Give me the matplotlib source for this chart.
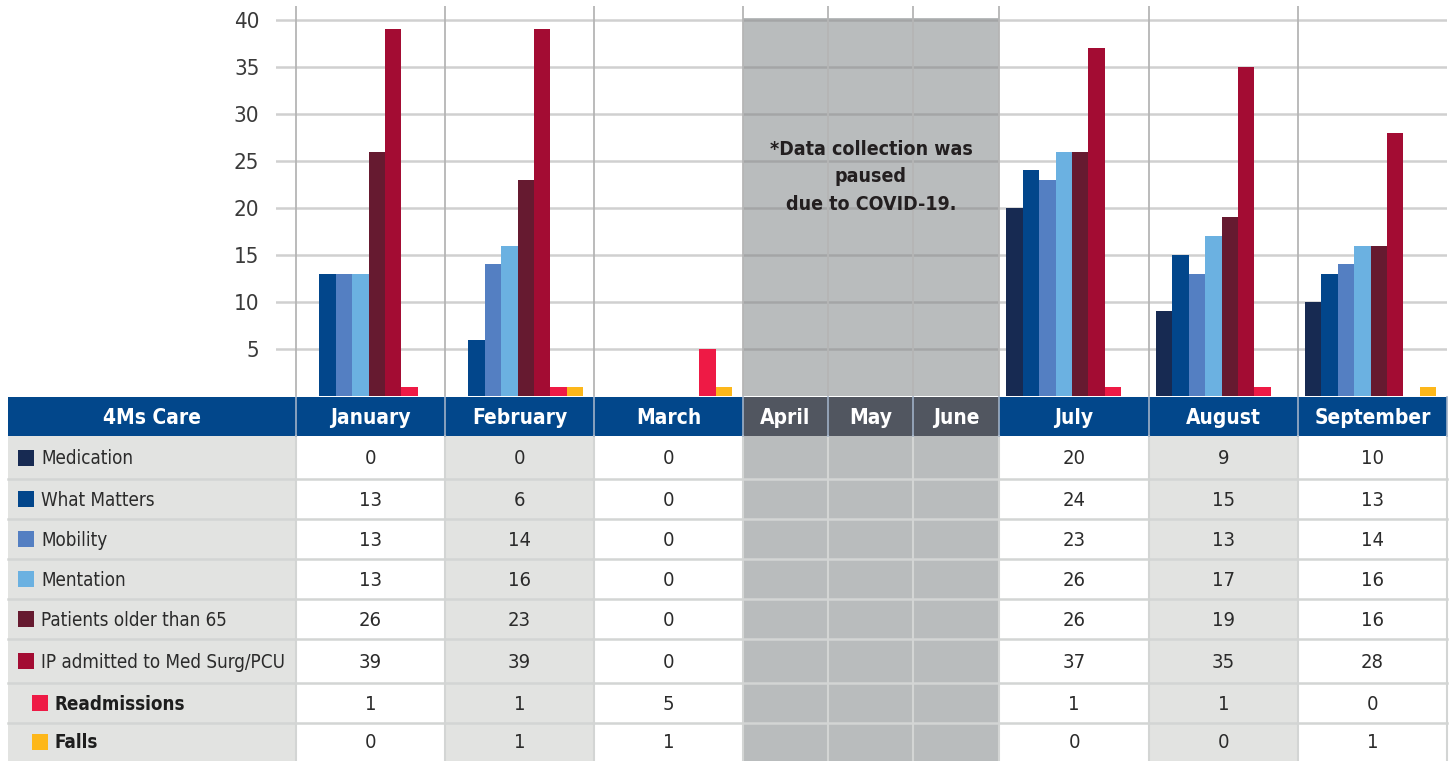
import numpy as np
import matplotlib.pyplot as plt
from matplotlib.patches import Rectangle

plt.rcParams['font.family'] = ['Liberation Sans Narrow', 'DejaVu Sans']
plt.rcParams['font.stretch'] = 'condensed'

months = ["January", "February", "March", "April", "May", "June", "July", "August", "September"]
paused = ["April", "May", "June"]
series = ["Medication", "What Matters", "Mobility", "Mentation",
          "Patients older than 65", "IP admitted to Med Surg/PCU", "Readmissions", "Falls"]
bold_series = ["Readmissions", "Falls"]

medication = [0, 0, 0, None, None, None, 20, 9, 10]
what_matters = [13, 6, 0, None, None, None, 24, 15, 13]
mobility = [13, 14, 0, None, None, None, 23, 13, 14]
mentation = [13, 16, 0, None, None, None, 26, 17, 16]
older_65 = [26, 23, 0, None, None, None, 26, 19, 16]
ip_admitted = [39, 39, 0, None, None, None, 37, 35, 28]
readmissions = [1, 1, 5, None, None, None, 1, 1, 0]
falls = [0, 1, 1, None, None, None, 0, 0, 1]
values = [medication, what_matters, mobility, mentation, older_65, ip_admitted, readmissions, falls]

colors = ["#172A52", "#02468B", "#547FC2", "#6BB1E1", "#661A30", "#A30C33", "#EE1A45", "#FDB71A"]

# layout in pixels
W, H = 1452, 761
col_edges = [296, 445, 594, 743, 828, 913, 999, 1149, 1298, 1447]
row_edges = [397, 436, 479, 519, 559, 599, 639, 683, 723, 761]
table_left = 8
zero_y, top_y = 396, 6
px_per_unit = 9.4
bar_w = 16.4

fig = plt.figure(figsize=(W / 100, H / 100), dpi=100)

# ---- table (figure pixel coords)
tab = fig.add_axes([0, 0, 1, 1], zorder=0)
tab.set_xlim(0, W)
tab.set_ylim(H, 0)
tab.axis('off')

blue = "#02478B"
dark = "#515660"
covid_gray = "#B9BCBD"
light = "#E2E3E1"
line_col = "#D3D5D4"
text_col = "#2B2B2B"

# header
tab.add_patch(Rectangle((table_left, row_edges[0]), col_edges[0] - table_left,
                        row_edges[1] - row_edges[0], color=blue, lw=0))
tab.text((table_left + col_edges[0]) / 2, (row_edges[0] + row_edges[1]) / 2 + 1, "4Ms Care",
         color="white", fontsize=15, fontweight='bold', ha='center', va='center')
for i, m in enumerate(months):
    x0, x1 = col_edges[i], col_edges[i + 1]
    hc = dark if m in paused else blue
    tab.add_patch(Rectangle((x0, row_edges[0]), x1 - x0, row_edges[1] - row_edges[0], color=hc, lw=0))
    tab.text((x0 + x1) / 2, (row_edges[0] + row_edges[1]) / 2 + 1, m,
             color="white", fontsize=15, fontweight='bold', ha='center', va='center')
    if m in paused:
        bg = covid_gray
    elif i % 2 == 1:
        bg = light
    else:
        bg = "white"
    tab.add_patch(Rectangle((x0, row_edges[1]), x1 - x0, row_edges[-1] - row_edges[1], color=bg, lw=0))
tab.add_patch(Rectangle((table_left, row_edges[1]), col_edges[0] - table_left,
                        row_edges[-1] - row_edges[1], color=light, lw=0))

# grid lines of table
for y in row_edges[2:-1]:
    tab.plot([table_left, col_edges[-1]], [y, y], color=line_col, lw=1.8)
for x in col_edges:
    tab.plot([x, x], [row_edges[1], row_edges[-1]], color=line_col, lw=1.5)
    tab.plot([x, x], [row_edges[0], row_edges[1]], color="#9FB0C6", lw=1.2)

# row labels and values
for r, name in enumerate(series):
    y0, y1 = row_edges[r + 1], row_edges[r + 2]
    yc = (y0 + y1) / 2
    bold = name in bold_series
    sx = 32 if bold else 18
    tab.add_patch(Rectangle((sx, yc - 8), 16, 16, color=colors[r], lw=0))
    tab.text(sx + 23, yc + 1, name, color=text_col if not bold else "#1E1E1E",
             fontsize=13.5, fontweight='bold' if bold else 'normal', ha='left', va='center')
    for i, v in enumerate(values[r]):
        if v is None:
            continue
        tab.text((col_edges[i] + col_edges[i + 1]) / 2, yc + 1, str(v), color=text_col,
                 fontsize=14.5, ha='center', va='center')

# ---- bar chart (x in pixels, y in data units)
ax = fig.add_axes([276 / W, (H - zero_y) / H, (col_edges[-1] - 276) / W, (zero_y - top_y) / H],
                  zorder=1)
ax.set_facecolor('none')
ax.set_xlim(276, col_edges[-1])
ax.set_ylim(0, (zero_y - top_y) / px_per_unit)
for s in ax.spines.values():
    s.set_visible(False)

yticks = [5, 10, 15, 20, 25, 30, 35, 40]
ax.set_yticks(yticks)
ax.set_yticklabels([str(t) for t in yticks], fontsize=16, color="#3A3A3A")
ax.tick_params(axis='y', length=0, pad=12)
ax.set_xticks([])

# paused block
p0 = col_edges[months.index("April")]
p1 = col_edges[months.index("June") + 1]
ax.add_patch(Rectangle((p0, 0), p1 - p0, (zero_y - 18) / px_per_unit, color=covid_gray, lw=0, zorder=1))
for t in yticks:
    ax.axhline(t, color="#808080", alpha=0.37, lw=1.8, zorder=2)
for x in col_edges[:-1]:
    ax.axvline(x, color="#B5B5B5", lw=1.3, zorder=2)

centers = [(col_edges[i] + col_edges[i + 1]) / 2 - 2 for i in range(len(months))]
for k, (vals, c) in enumerate(zip(values, colors)):
    xs, hs = [], []
    for i, v in enumerate(vals):
        if v is None:
            continue
        xs.append(centers[i] + (k - 3.5) * bar_w)
        hs.append(v)
    ax.bar(xs, hs, width=bar_w, color=c, lw=0, zorder=3, label=series[k])

ax.text((p0 + p1) / 2, (zero_y - 177) / px_per_unit,
        "*Data collection was\npaused\ndue to COVID-19.",
        ha='center', va='center', fontsize=14, fontweight='bold', color="#231F20",
        linespacing=1.55, zorder=4)

fig.savefig("out.png", dpi=100)
